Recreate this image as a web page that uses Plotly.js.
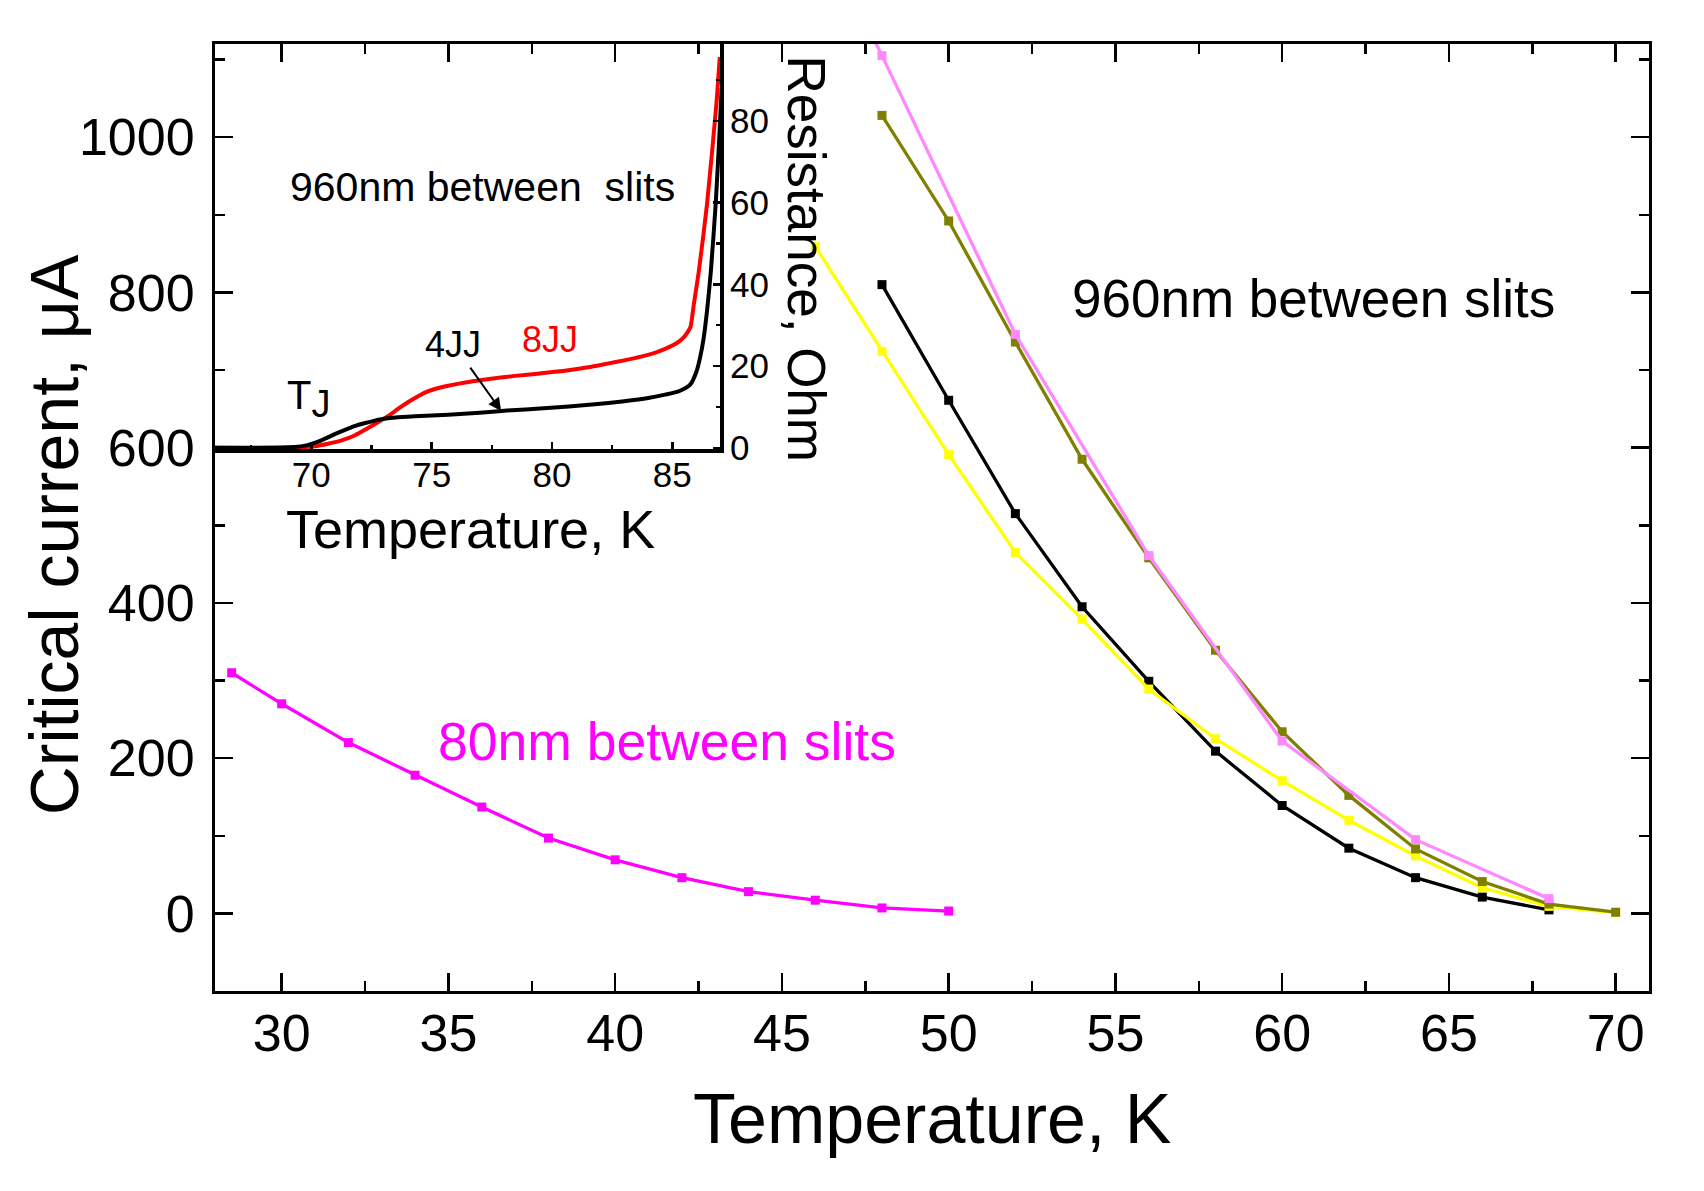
<!DOCTYPE html>
<html>
<head>
<meta charset="utf-8">
<script src="https://cdn.plot.ly/plotly-3.0.1.min.js"></script>
<style>html,body{margin:0;padding:0;background:#fff;}#chart{width:1704px;height:1191px;}</style>
</head>
<body>
<div id="chart"></div>
<script>
// ---------- Main plot data: critical current (µA) vs temperature (K) ----------
const temp80nm = [28.5, 30, 32, 34, 36, 38, 40, 42, 44, 46, 48, 50];
const ic80nm   = [310, 270, 220, 178, 137, 97, 69, 46, 28, 17, 7, 3];

const tempBlack = [48, 50, 52, 54, 56, 58, 60, 62, 64, 66, 68];
const icBlack   = [810, 661, 515, 395, 299, 209, 139, 84, 46, 21, 4.5];

const tempYellow = [46, 48, 50, 52, 54, 56, 58, 60, 62, 64, 66, 68, 70];
const icYellow   = [859, 724, 591, 465, 379, 289, 225, 171, 120, 74, 33, 9, 1];

const tempOlive = [48, 50, 52, 54, 56, 58, 60, 62, 64, 66, 68, 70];
const icOlive   = [1028, 892, 736, 585, 458, 339, 234, 152, 83, 41, 12, 1.5];

const tempPink = [46, 48, 52, 56, 60, 64, 68];
const icPink   = [1280, 1105, 746, 461, 222, 95, 19];

// ---------- Inset data: resistance (Ohm) vs temperature (K) ----------
const tempR8JJ = [66, 69, 70.15, 70.7, 71.26, 71.8, 72.23, 72.7, 73.2, 73.6, 74.03, 74.4, 74.72, 75.2, 75.69, 76.4, 77.08, 78.46, 79.5, 80.6, 81.5, 82.3, 83.0, 83.7, 84.3, 84.7, 85.06, 85.3, 85.47, 85.6, 85.75, 85.89, 86.1, 86.44, 86.83, 86.97];
const res8JJ   = [0, 0, 0.4, 1.0, 1.8, 3.0, 4.4, 6.0, 7.8, 9.5, 11.2, 12.5, 13.5, 14.5, 15.2, 16.0, 16.6, 17.6, 18.2, 18.9, 19.7, 20.6, 21.4, 22.3, 23.3, 24.2, 25.2, 26.1, 27.0, 28.0, 29.5, 35.0, 43.2, 59.6, 84.1, 95.6];

const tempR4JJ = [66, 69.3, 69.8, 70.2, 70.6, 71.0, 71.4, 71.8, 72.2, 72.6, 72.92, 73.5, 74.3, 75.69, 77.0, 78.32, 79.5, 80.7, 81.9, 83.0, 84.0, 84.7, 85.3, 85.75, 86.0, 86.15, 86.3, 86.45, 86.6, 86.8, 86.95, 87.05];
const res4JJ   = [0, 0.2, 0.6, 1.3, 2.3, 3.4, 4.4, 5.3, 6.0, 6.6, 7.0, 7.4, 7.7, 8.1, 8.6, 9.2, 9.6, 10.1, 10.7, 11.4, 12.2, 13.0, 13.9, 15.5, 18.6, 22.0, 26.8, 34.0, 43.2, 59.6, 75.9, 88];

// ---------- Ticks ----------
const mainXTicks = [30, 35, 40, 45, 50, 55, 60, 65, 70];
const mainYTicks = [0, 200, 400, 600, 800, 1000];
const insetXTicks = [70, 75, 80, 85];
const insetYTicks = [0, 20, 40, 60, 80];

// ---------- Labels ----------
const mainXTitle = 'Temperature, K';
const mainYTitle = 'Critical current, \u03BCA';
const insetXTitle = 'Temperature, K';
const insetYTitle = 'Resistance, Ohm';
const label960Main = '960nm between slits';
const label80 = '80nm between slits';
const label960Inset = '960nm between\u00A0 slits';
const label4JJ = '4JJ';
const label8JJ = '8JJ';
const labelTJ = 'T<sub><span style="font-size:38px">J</span></sub>';

const FONT = 'Liberation Sans, Arial, Helvetica, sans-serif';

function mainSeries(x, y, color) {
  return {
    x: x, y: y, xaxis: 'x', yaxis: 'y', type: 'scatter', mode: 'lines+markers',
    line: {color: color, width: 3.3},
    marker: {symbol: 'square', size: 9, color: color, line: {width: 0}},
    hoverinfo: 'skip', cliponaxis: true
  };
}
function insetSeries(x, y, color) {
  return {
    x: x, y: y, xaxis: 'x2', yaxis: 'y2', type: 'scatter', mode: 'lines',
    line: {color: color, width: 4, shape: 'spline', smoothing: 0.6},
    hoverinfo: 'skip'
  };
}

const traces = [
  mainSeries(temp80nm, ic80nm, '#FF00FF'),
  mainSeries(tempBlack, icBlack, '#000000'),
  mainSeries(tempYellow, icYellow, '#FFFF00'),
  mainSeries(tempOlive, icOlive, '#808000'),
  mainSeries(tempPink, icPink, '#FF88FF'),
  insetSeries(tempR8JJ, res8JJ, '#FF0000'),
  insetSeries(tempR4JJ, res4JJ, '#000000')
];

function axisCommon(extra) {
  return Object.assign({
    showline: true, linecolor: '#000', showgrid: false, zeroline: false,
    ticks: 'inside', tickcolor: '#000', tickmode: 'array', fixedrange: true
  }, extra);
}

const layout = {
  width: 1704, height: 1191,
  margin: {l: 215, r: 55, t: 44, b: 200, pad: 0},
  paper_bgcolor: '#fff', plot_bgcolor: 'rgba(0,0,0,0)',
  showlegend: false,
  font: {family: FONT, color: '#000'},
  xaxis: axisCommon({
    domain: [0, 1], anchor: 'y', range: [28, 71],
    tickvals: mainXTicks, ticktext: mainXTicks.map(String),
    ticklen: 18, tickwidth: 2.5, linewidth: 3, mirror: 'allticks',
    tickfont: {size: 52, family: FONT}, ticklabelstandoff: -5,
    minor: {ticks: 'inside', tickmode: 'linear', tick0: 30, dtick: 2.5, ticklen: 10, tickwidth: 2.5, tickcolor: '#000', showgrid: false}
  }),
  yaxis: axisCommon({
    domain: [0, 1], anchor: 'x', range: [-100, 1120],
    tickvals: mainYTicks, ticktext: mainYTicks.map(String),
    ticklen: 18, tickwidth: 2.5, linewidth: 3, mirror: 'allticks',
    tickfont: {size: 52, family: FONT}, ticklabelstandoff: 7,
    minor: {ticks: 'inside', tickmode: 'linear', tick0: 0, dtick: 100, ticklen: 10, tickwidth: 2.5, tickcolor: '#000', showgrid: false}
  }),
  xaxis2: axisCommon({
    domain: [0, 0.3525], anchor: 'y2', range: [66, 87],
    tickvals: insetXTicks, ticktext: insetXTicks.map(String),
    ticklen: 7, tickwidth: 2.5, linewidth: 3.5, mirror: true,
    tickfont: {size: 35, family: FONT}, ticklabelstandoff: -8,
    minor: {ticks: 'inside', tickmode: 'linear', tick0: 70, dtick: 2.5, ticklen: 4, tickwidth: 2.5, tickcolor: '#000', showgrid: false}
  }),
  yaxis2: axisCommon({
    domain: [0.5723, 1], anchor: 'x2', side: 'right', range: [-0.3, 98.8],
    tickvals: insetYTicks, ticktext: insetYTicks.map(String),
    ticklen: 7, tickwidth: 2.5, linewidth: 3.5, mirror: true,
    tickfont: {size: 35, family: FONT}, ticklabelstandoff: -1,
    minor: {ticks: 'inside', tickmode: 'linear', tick0: 0, dtick: 10, ticklen: 4, tickwidth: 2.5, tickcolor: '#000', showgrid: false}
  }),
  annotations: [
    {text: mainXTitle, xref: 'paper', yref: 'paper', x: 0.5, y: -0.1347, xanchor: 'center', yanchor: 'middle', showarrow: false, font: {size: 70, family: FONT, color: '#000'}},
    {text: mainYTitle, xref: 'paper', yref: 'paper', x: -0.1121, y: 0.4815, xanchor: 'center', yanchor: 'middle', textangle: -90, showarrow: false, font: {size: 68, family: FONT, color: '#000'}},
    {text: insetXTitle, xref: 'paper', yref: 'paper', x: 0.1785, y: 0.4879, xanchor: 'center', yanchor: 'middle', showarrow: false, font: {size: 54, family: FONT, color: '#000'}},
    {text: insetYTitle, xref: 'paper', yref: 'paper', x: 0.4125, y: 0.774, xanchor: 'center', yanchor: 'middle', textangle: 90, showarrow: false, font: {size: 53, family: FONT, color: '#000'}},
    {text: label960Main, xref: 'x', yref: 'y', x: 60.93, y: 792.5, xanchor: 'center', yanchor: 'middle', showarrow: false, font: {size: 53, family: FONT, color: '#000'}},
    {text: label80, xref: 'x', yref: 'y', x: 41.55, y: 221, xanchor: 'center', yanchor: 'middle', showarrow: false, font: {size: 53.5, family: FONT, color: '#FF00FF'}},
    {text: label960Inset, xref: 'x2', yref: 'y2', x: 77.13, y: 63.7, xanchor: 'center', yanchor: 'middle', showarrow: false, font: {size: 41, family: FONT, color: '#000'}},
    {text: label4JJ, xref: 'x2', yref: 'y2', x: 75.88, y: 25.2, xanchor: 'center', yanchor: 'middle', showarrow: false, font: {size: 36, family: FONT, color: '#000'}},
    {text: label8JJ, xref: 'x2', yref: 'y2', x: 79.91, y: 26.5, xanchor: 'center', yanchor: 'middle', showarrow: false, font: {size: 36, family: FONT, color: '#FF0000'}},
    {text: labelTJ, xref: 'x2', yref: 'y2', x: 68.91, y: 12.0, xanchor: 'left', yanchor: 'middle', showarrow: false, font: {size: 40, family: FONT, color: '#000'}},
    {text: '', xref: 'x2', yref: 'y2', x: 77.89, y: 9.0, axref: 'x2', ayref: 'y2', ax: 76.56, ay: 20.0, showarrow: true, arrowhead: 2, arrowsize: 1.3, arrowwidth: 2, arrowcolor: '#000', standoff: 0, startstandoff: 0}
  ]
};

Plotly.newPlot('chart', traces, layout, {staticPlot: true, displayModeBar: false});
</script>
</body>
</html>
